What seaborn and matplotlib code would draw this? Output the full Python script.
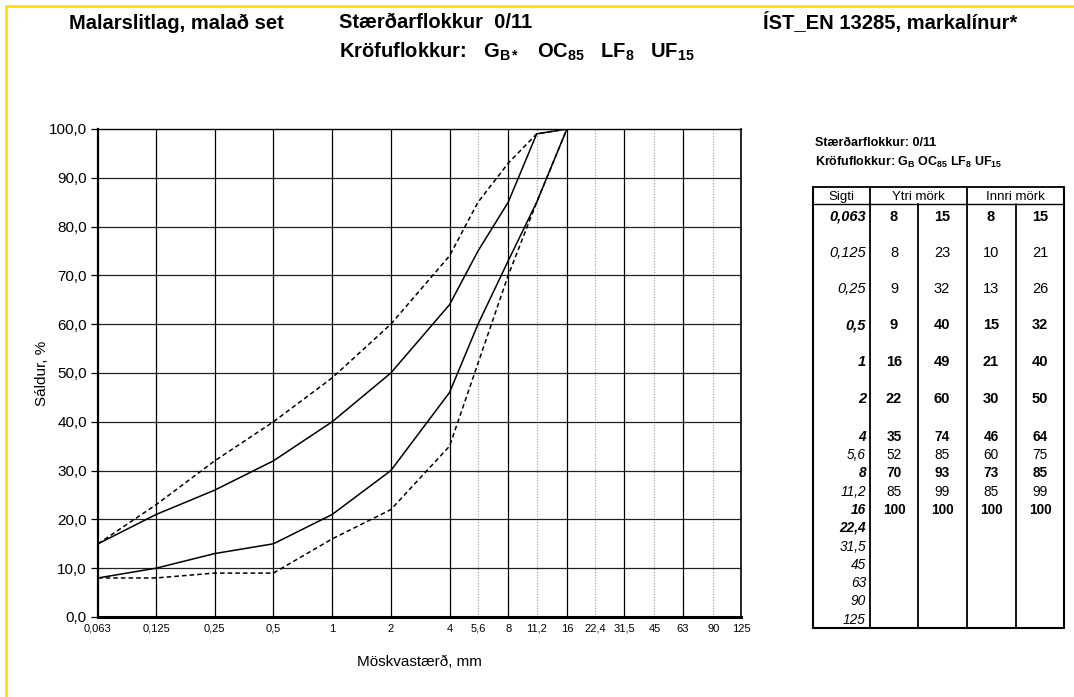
import matplotlib
matplotlib.use('Agg')
import matplotlib.pyplot as plt
from matplotlib.lines import Line2D
from matplotlib.patches import Rectangle
from matplotlib.ticker import NullLocator
import seaborn as sns
import pandas as pd

# Sieve sizes (mm) and their labels
sieves = [0.063, 0.125, 0.25, 0.5, 1, 2, 4, 5.6, 8, 11.2, 16, 22.4, 31.5, 45, 63, 90, 125]
sieve_labels = ['0,063', '0,125', '0,25', '0,5', '1', '2', '4', '5,6', '8', '11,2',
                '16', '22,4', '31,5', '45', '63', '90', '125']

# Grading limits, % passing (sieves 0,063 .. 16)
outer_low = [8, 8, 9, 9, 16, 22, 35, 52, 70, 85, 100]
outer_high = [15, 23, 32, 40, 49, 60, 74, 85, 93, 99, 100]
inner_low = [8, 10, 13, 15, 21, 30, 46, 60, 73, 85, 100]
inner_high = [15, 21, 26, 32, 40, 50, 64, 75, 85, 99, 100]

# intermediate sieves drawn with dotted gridlines
dotted_sieves = [5.6, 11.2, 22.4, 45, 90]
bold_rows = ['0,063', '0,5', '1', '2', '4', '8', '16', '22,4']
y_ticks = [0, 10, 20, 30, 40, 50, 60, 70, 80, 90, 100]

sns.set_style('white')
plt.rcParams['font.family'] = ['Liberation Sans', 'DejaVu Sans']
plt.rcParams['text.color'] = 'black'
plt.rcParams['axes.labelcolor'] = 'black'
plt.rcParams['xtick.color'] = 'black'
plt.rcParams['ytick.color'] = 'black'
plt.rcParams['mathtext.fontset'] = 'custom'
plt.rcParams['mathtext.rm'] = 'Liberation Sans:bold'
plt.rcParams['mathtext.bf'] = 'Liberation Sans:bold'
plt.rcParams['mathtext.it'] = 'Liberation Sans:bold'

W, H = 1074, 697
fig = plt.figure(figsize=(W / 100, H / 100), dpi=100)


def fx(x):
    return x / W


def fy(y):
    return 1 - y / H


ax = fig.add_axes([fx(98), fy(617), fx(741) - fx(98), fy(129) - fy(617)])

# gridlines
for s in sieves[1:-1]:
    if s in dotted_sieves:
        ax.axvline(s, color='#9a9a9a', lw=0.8, ls=(0, (1, 1.5)), zorder=1)
    else:
        ax.axvline(s, color='black', lw=0.9, zorder=1)
for v in y_ticks[1:-1]:
    ax.axhline(v, color='#222222', lw=0.9, zorder=1)

# limit curves
n = len(outer_low)
df = pd.DataFrame({'sieve': sieves[:n], 'outer_low': outer_low, 'outer_high': outer_high,
                   'inner_low': inner_low, 'inner_high': inner_high})
for col, ls in [('outer_low', (0, (3, 2))), ('outer_high', (0, (3, 2))),
                ('inner_low', '-'), ('inner_high', '-')]:
    sns.lineplot(data=df, x='sieve', y=col, ax=ax, color='black', linestyle=ls,
                 linewidth=1.1, zorder=3)

ax.set_xscale('log')
ax.set_xlim(0.063, 125)
ax.set_ylim(0, 100)
ax.set_xticks(sieves)
ax.set_xticklabels(sieve_labels, fontsize=8)
ax.xaxis.set_minor_locator(NullLocator())
ax.set_yticks(y_ticks)
ax.set_yticklabels([f'{v},0' for v in y_ticks], fontsize=11)
ax.tick_params(axis='y', left=True, length=5, width=0.9, direction='out', pad=3)
ax.tick_params(axis='x', bottom=False, length=0, pad=5)
ax.set_xlabel('Möskvastærð, mm', fontsize=11, labelpad=15)
ax.set_ylabel('Sáldur, %', fontsize=11)
ax.yaxis.set_label_coords(-0.076, 0.5)
for side, lw in [('bottom', 2.2), ('left', 1.6), ('top', 1.0), ('right', 1.2)]:
    ax.spines[side].set_color('black')
    ax.spines[side].set_linewidth(lw)
    ax.spines[side].set_visible(True)

# yellow frame
fig.patches.append(Rectangle((fx(6), -0.5), 2, fy(6) + 0.5, transform=fig.transFigure,
                             fill=False, edgecolor='#FFE000', lw=2))

# titles
fig.text(fx(69), fy(23), 'Malarslitlag, malað set', fontsize=14.5, fontweight='bold', va='center')
fig.text(fx(339), fy(23), 'Stærðarflokkur  0/11', fontsize=14.5, fontweight='bold', va='center')
fig.text(fx(339), fy(52), r'Kröfuflokkur:   G$_{B*}$   OC$_{85}$   LF$_{8}$   UF$_{15}$',
         fontsize=14.5, fontweight='bold', va='center')
fig.text(fx(763), fy(23), 'ÍST_EN 13285, markalínur*', fontsize=14.5, fontweight='bold', va='center')

# table heading
fig.text(fx(815), fy(143), 'Stærðarflokkur: 0/11', fontsize=9, fontweight='bold', va='center')
fig.text(fx(815), fy(162), r'Kröfuflokkur: G$_{B}$ OC$_{85}$ LF$_{8}$ UF$_{15}$',
         fontsize=9, fontweight='bold', va='center')

# table grid
tl, tr, tt, th, tb = 813, 1064, 187, 204, 628
col_x = [870, 918, 967, 1016]


def hline(y, x0, x1, lw):
    fig.add_artist(Line2D([fx(x0), fx(x1)], [fy(y), fy(y)], color='black', lw=lw,
                          transform=fig.transFigure))


def vline(x, y0, y1, lw):
    fig.add_artist(Line2D([fx(x), fx(x)], [fy(y0), fy(y1)], color='black', lw=lw,
                          transform=fig.transFigure))


hline(tt, tl, tr, 1.3)
hline(th, tl, tr, 1.0)
hline(tb, tl, tr, 1.5)
vline(tl, tt, tb, 1.5)
vline(tr, tt, tb, 1.5)
vline(col_x[0], tt, tb, 1.3)
vline(col_x[2], tt, tb, 1.3)
vline(col_x[1], th, tb, 1.3)
vline(col_x[3], th, tb, 1.3)

fig.text(fx((tl + col_x[0]) / 2), fy(197), 'Sigti', fontsize=9.5, ha='center', va='center')
fig.text(fx((col_x[0] + col_x[2]) / 2), fy(197), 'Ytri mörk', fontsize=9.5, ha='center', va='center')
fig.text(fx((col_x[2] + tr) / 2), fy(197), 'Innri mörk', fontsize=9.5, ha='center', va='center')

row_y = [217, 253, 289, 325, 362, 399, 437, 455, 473, 492, 510, 528, 547, 565, 583, 601, 620]
cell_x = [894, 942, 991, 1040]
for i, lab in enumerate(sieve_labels):
    bold = lab in bold_rows
    fs = 10.5 if i < 6 else 9.8
    w = 'bold' if bold else 'normal'
    fig.text(fx(866), fy(row_y[i]), lab, fontsize=fs, fontweight=w, fontstyle='italic',
             ha='right', va='center')
    if i < n:
        vals = [outer_low[i], outer_high[i], inner_low[i], inner_high[i]]
        for cx, v in zip(cell_x, vals):
            fig.text(fx(cx), fy(row_y[i]), str(v), fontsize=fs, fontweight=w,
                     ha='center', va='center')

fig.savefig('out.png', dpi=100)
